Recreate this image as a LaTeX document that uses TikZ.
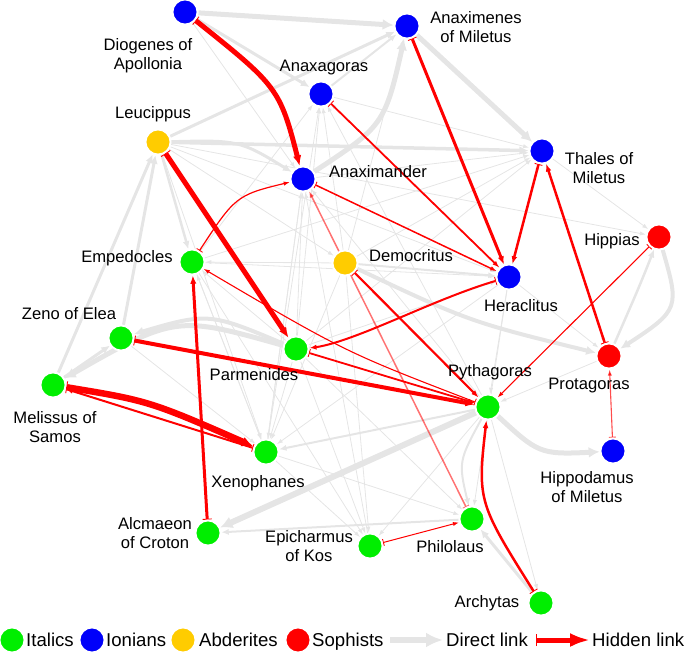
\documentclass[tikz,border=0pt]{standalone}
\usepackage{fontspec}
\setmainfont{Liberation Sans}
\usetikzlibrary{arrows.meta,bending}
\definecolor{cgreen}{RGB}{0,238,0}
\definecolor{cblue}{RGB}{0,0,250}
\definecolor{cyellow}{RGB}{255,204,0}
\definecolor{cred}{RGB}{255,0,0}
\definecolor{cgrey}{RGB}{229,229,229}
\pgfdeclarelayer{bg}
\pgfdeclarelayer{mid}
\pgfsetlayers{bg,mid,main}
\tikzset{
  pnode/.style={circle, minimum size=25pt, inner sep=0pt, draw=white, line width=1.8pt},
  ital/.style={pnode, fill=cgreen},
  ion/.style={pnode, fill=cblue},
  abd/.style={pnode, fill=cyellow},
  soph/.style={pnode, fill=cred},
  lbl/.style={font=\fontsize{16.6}{19}\selectfont, align=center, inner sep=0pt},
  leg/.style={font=\fontsize{18.6}{21}\selectfont, inner sep=0pt, anchor=base west},
  gl/.style={draw=cgrey, line width=#1, -{Latex[length=5pt 1.2, width=3pt 1.6]}},
  hl/.style 2 args={draw=cred, line width=#1, {Bar[width=#2, line width=0.9pt]}-{Latex[length=5pt 1.1, width=3pt 1.1]}},
}
\begin{document}
\begin{tikzpicture}[x=1pt,y=-1pt]
\useasboundingbox (0,0) rectangle (685,653);
% ---------- philosophers ----------
\node[ion]  (dio)    at (185,12)  {};
\node[ion]  (anaxmn) at (407,26)  {};
\node[ion]  (anaxag) at (321,94)  {};
\node[abd]  (leu)    at (158,142) {};
\node[ion]  (anaxmd) at (303,179) {};
\node[ion]  (thal)   at (542,151) {};
\node[ital] (emp)    at (192,262) {};
\node[abd]  (dem)    at (345,263) {};
\node[ion]  (her)    at (509,277) {};
\node[soph] (hip)    at (659,237) {};
\node[ital] (zen)    at (121,338) {};
\node[ital] (par)    at (296,349) {};
\node[ital] (mel)    at (53,385)  {};
\node[soph] (prot)   at (609,356) {};
\node[ital] (pyth)   at (488,407) {};
\node[ital] (xen)    at (266,452) {};
\node[ion]  (hipd)   at (613,451) {};
\node[ital] (alc)    at (208,533) {};
\node[ital] (phil)   at (472,519) {};
\node[ital] (epi)    at (370,546) {};
\node[ital] (arch)   at (541,603) {};
% ---------- labels ----------
\node[lbl] (dio-l)    at (148,56)    {Diogenes of\\Apollonia};
\node[lbl] (anaxmn-l) at (476,27.5)  {Anaximenes\\of Miletus};
\node[lbl] (anaxag-l) at (324,68)    {Anaxagoras};
\node[lbl] (leu-l)    at (153,114)   {Leucippus};
\node[lbl] (anaxmd-l) at (378,172)   {Anaximander};
\node[lbl] (thal-l)   at (599,168.5) {Thales of\\Miletus};
\node[lbl] (emp-l)    at (127,258)   {Empedocles};
\node[lbl] (dem-l)    at (411,256)   {Democritus};
\node[lbl] (her-l)    at (521,306)   {Heraclitus};
\node[lbl] (hip-l)    at (612,241)   {Hippias};
\node[lbl] (zen-l)    at (69,314)    {Zeno of Elea};
\node[lbl] (par-l)    at (254,375)   {Parmenides};
\node[lbl] (mel-l)    at (55,427.5)  {Melissus of\\Samos};
\node[lbl] (pyth-l)   at (490,372)   {Pythagoras};
\node[lbl] (prot-l)   at (589,386)   {Protagoras};
\node[lbl] (xen-l)    at (258,483)   {Xenophanes};
\node[lbl] (hipd-l)   at (587,487.5) {Hippodamus\\of Miletus};
\node[lbl] (alc-l)    at (155,533.5) {Alcmaeon\\of Croton};
\node[lbl] (epi-l)    at (309,546.5) {Epicharmus\\of Kos};
\node[lbl] (phil-l)   at (450,547)   {Philolaus};
\node[lbl] (arch-l)   at (487,603)   {Archytas};
% ---------- legend ----------
\node[ital] (lg-it) at (12,640) {};
\node[leg]  (lg-it-t) at (26,646.5) {Italics};
\node[ion]  (lg-io) at (92,640) {};
\node[leg]  (lg-io-t) at (106,646.5) {Ionians};
\node[abd]  (lg-ab) at (183,640) {};
\node[leg]  (lg-ab-t) at (199,646.5) {Abderites};
\node[soph] (lg-so) at (298,640) {};
\node[leg]  (lg-so-t) at (312,646.5) {Sophists};
\coordinate (dl-a) at (390,640);
\coordinate (dl-b) at (443,640);
\node[leg]  (lg-dl-t) at (446,646.5) {Direct link};
\coordinate (hl-a) at (536,640);
\coordinate (hl-b) at (590,640);
\node[leg]  (lg-hl-t) at (592,646.5) {Hidden link};
\draw[draw=cgrey, line width=6.5pt, -{Latex[length=17pt,width=15pt]}] (dl-a) -- (dl-b);
\draw[draw=cred, line width=5pt, {Bar[width=12pt,line width=1.2pt]}-{Latex[length=20pt,width=14pt]}] (hl-a) -- (hl-b);
% ---------- direct links ----------
\begin{pgfonlayer}{bg}
\foreach \a/\b in {dio/anaxmd, leu/hip, leu/par, leu/xen, leu/dem, leu/her,
  emp/anaxag, dem/anaxag, par/anaxag, xen/anaxag, pyth/anaxag, her/anaxag,
  par/anaxmd, xen/anaxmd, epi/anaxmd, pyth/anaxmd,
  anaxag/thal, dem/thal, her/thal, par/thal, emp/thal, anaxmd/thal,
  emp/her, par/her, dem/emp, par/emp, xen/emp,
  par/xen, dem/xen, her/xen, anaxmd/xen, emp/xen, zen/xen,
  xen/epi, par/epi, pyth/epi, dem/epi, emp/epi,
  par/phil, xen/phil, prot/pyth, her/pyth, par/pyth,
  her/prot, thal/prot, thal/hip, pyth/arch, her/phil, dem/anaxmn}
  \draw[gl=0.8pt] (\a) -- (\b);
\draw[gl=2pt] (dem) -- (her);
\draw[gl=2pt] (pyth) -- (xen);
\draw[gl=2pt] (anaxag) -- (anaxmn);
\draw[gl=2pt] (phil) -- (alc);
\draw[gl=2pt] (pyth) .. controls (458,462) .. (phil);
\draw[gl=3pt] (arch) -- (phil);
\draw[gl=3pt] (dio) -- (anaxag);
\draw[gl=3pt] (leu) -- (anaxmn);
\draw[gl=3.5pt] (leu) -- (thal);
\draw[gl=3pt] (leu) .. controls (240,140) .. (anaxmd);
\draw[gl=2.5pt] (leu) -- (emp);
\draw[gl=3pt] (mel) -- (leu);
\draw[gl=3pt] (zen) -- (leu);
\draw[gl=3pt] (mel) -- (zen);
\draw[gl=4pt] (par) .. controls (208,312) .. (zen);
\draw[gl=5pt] (par) .. controls (175,315) .. (mel);
\draw[gl=5pt] (dio) -- (anaxmn);
\draw[gl=5pt] (anaxmd) .. controls (385,125) .. (anaxmn);
\draw[gl=5pt] (anaxmn) -- (thal);
\draw[gl=6pt] (pyth) -- (alc);
\draw[gl=5pt] (pyth) .. controls (540,455) .. (hipd);
\draw[gl=4pt] (dem) .. controls (470,322) .. (prot);
\draw[gl=4pt] (hip) .. controls (680,310) .. (prot);
\draw[gl=2.5pt] (prot) .. controls (640,285) .. (hip);
\end{pgfonlayer}
% ---------- hidden links ----------
\begin{pgfonlayer}{mid}
\draw[hl={5pt}{10pt}] (dio) .. controls (280,88) .. (anaxmd);
\draw[hl={3pt}{9pt}] (anaxmn) -- (her);
\draw[hl={1.8pt}{8pt}] (anaxag) -- (her);
\draw[hl={5pt}{11pt}] (leu) -- (par);
\draw[hl={1.2pt}{7pt}] (emp) .. controls (236,195) .. (anaxmd);
\draw[hl={1.5pt}{7pt}] (anaxmd) -- (her);
\draw[hl={1.5pt}{7pt}, opacity=0.55] (phil) -- (anaxmd);
\draw[hl={2.5pt}{8pt}] (thal) -- (her);
\draw[hl={2.5pt}{8pt}] (prot) -- (thal);
\draw[hl={2pt}{8pt}] (her) .. controls (430,300) and (350,345) .. (par);
\draw[hl={1.8pt}{8pt}] (par) -- (pyth);
\draw[hl={1.1pt}{7pt}] (pyth) .. controls (345,352) .. (emp);
\draw[hl={4pt}{10pt}] (zen) -- (pyth);
\draw[hl={6.5pt}{12pt}] (mel) .. controls (150,401) .. (xen);
\draw[hl={2pt}{8pt}] (xen) -- (mel);
\draw[hl={3pt}{9pt}] (alc) -- (emp);
\draw[hl={2.2pt}{8pt}] (dem) -- (pyth);
\draw[hl={1.1pt}{7pt}] (hip) -- (pyth);
\draw[hl={1.1pt}{7pt}, opacity=0.7] (hipd) -- (prot);
\draw[hl={2.5pt}{9pt}] (arch) .. controls (477,501) .. (pyth);
\draw[hl={1pt}{7pt}] (epi) -- (phil);
\end{pgfonlayer}
\end{tikzpicture}
\end{document}
